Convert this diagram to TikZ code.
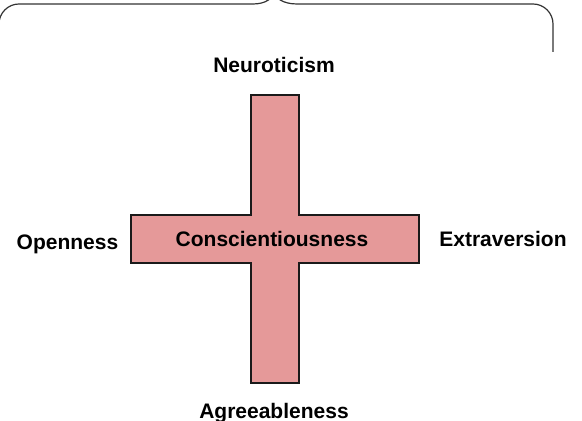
\documentclass[tikz,border=0pt]{standalone}
\usepackage{fontspec}
\setmainfont{Liberation Sans}
\usepackage{tikz}
\usetikzlibrary{positioning}
\definecolor{cArm} {HTML}{E59999}
\definecolor{cEdge}{HTML}{1A1A1A}
\definecolor{cBrc} {HTML}{333333}
\tikzset{
  arm/.style   ={draw=cEdge,fill=cArm,line width=0.6pt,line join=miter},
  trait/.style ={font=\fontsize{10.5}{12}\selectfont\bfseries,inner sep=0pt,anchor=base},
  brc/.style   ={draw=cBrc,line width=0.6pt},
}

\begin{document}
\begin{tikzpicture}[x=0.5pt, y=-0.5pt]
\useasboundingbox (0,0) rectangle (582,421);
\pgfmathsetmacro\cx{275}                       % centre of the cross
\pgfmathsetmacro\cy{239}
\pgfmathsetmacro\hw{24}                        % half width of a bar
\pgfmathsetmacro\hl{144}                       % half length of a bar

% ---- brace across the top, its tip cut off by the page ----------------
\begin{scope}
\clip (0,0) rectangle (582,421);
\coordinate (bl)  at (-1,52);
\coordinate (br)  at (553,52);
\coordinate (tip) at (274,-10);
\draw[brc] (bl) -- (-1,24) .. controls (-1,13) and (8,4) .. (19,4) -- (253,4)
  .. controls (266,4) and (274,-2) .. (tip)
  .. controls (274,-2) and (283,4) .. (297,4) -- (533,4)
  .. controls (544,4) and (553,13) .. (553,24) -- (br);
\end{scope}

% ---- the cross ----------------------------------------------------------
\draw[arm] (\cx-\hw,\cy-\hl) -- (\cx+\hw,\cy-\hl) -- (\cx+\hw,\cy-\hw)
  -- (\cx+\hl,\cy-\hw) -- (\cx+\hl,\cy+\hw) -- (\cx+\hw,\cy+\hw)
  -- (\cx+\hw,\cy+\hl) -- (\cx-\hw,\cy+\hl) -- (\cx-\hw,\cy+\hw)
  -- (\cx-\hl,\cy+\hw) -- (\cx-\hl,\cy-\hw) -- (\cx-\hw,\cy-\hw) -- cycle;
\node[trait] (consc) at (272,247) {Conscientiousness};

% ---- the other four traits round it -------------------------------------
% name/label/x/baseline
\foreach \nm/\lab/\x/\y in {%
  neuro/Neuroticism/274/73,
  open/Openness/67.5/250,
  extra/Extraversion/503/247,
  agree/Agreeableness/274/418}{%
    \node[trait] (\nm) at (\x,\y) {\lab};
}
\end{tikzpicture}
\end{document}
